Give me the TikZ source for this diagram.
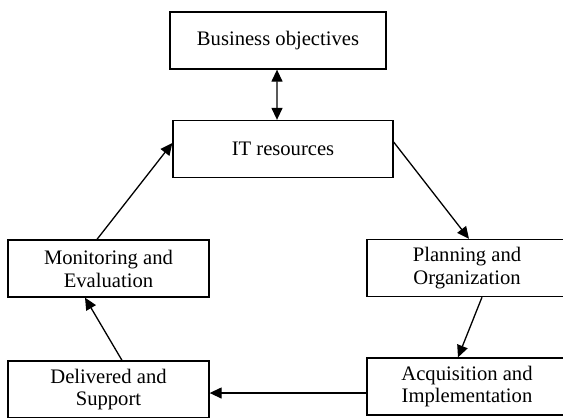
\documentclass[tikz,border=0pt]{standalone}
\usepackage{fontspec}
\setmainfont{Liberation Serif}
\usepackage{tikz}
\usetikzlibrary{arrows.meta}

\begin{document}
\begin{tikzpicture}[x=1bp,y=-1bp,>={Triangle[length=12bp,width=11bp]},line width=1.3bp,
  every node/.style={font=\fontsize{20.7}{23}\selectfont},
  stage/.style={draw,rectangle,align=center,inner sep=2pt,minimum height=57bp}]
\clip (0,0) rectangle (563,417);
\node[stage,minimum width=216bp] (B) at (278,40.5) {Business objectives};
\node[stage,minimum width=220bp] (R) at (283,149) {IT resources};
\node[stage,minimum width=201bp] (M) at (108.5,268.5) {Monitoring and\\Evaluation};
\node[stage,minimum width=200bp] (P) at (467,268) {Planning and\\Organization};
\node[stage,minimum width=200bp] (A) at (467,386.5) {Acquisition and\\Implementation};
\node[stage,minimum width=201bp] (D) at (108.5,389.5) {Delivered and\\Support};
\draw[<->] ([xshift=-1bp]B.south) -- ([xshift=-6bp]R.north);
\draw[->] ([xshift=-11.5bp]M.north) -- ([yshift=6bp]R.west);
\draw[->] ([yshift=7bp]R.east) -- ([xshift=2bp]P.north);
\draw[->] ([xshift=15bp]P.south) -- ([xshift=-9bp]A.north);
\draw[->] ([yshift=-6.5bp]A.west) -- ([yshift=-6.5bp]A.west -| D.east);
\draw[->] ([xshift=13.5bp]D.north) -- ([xshift=-23.5bp]M.south);
\end{tikzpicture}
\end{document}
